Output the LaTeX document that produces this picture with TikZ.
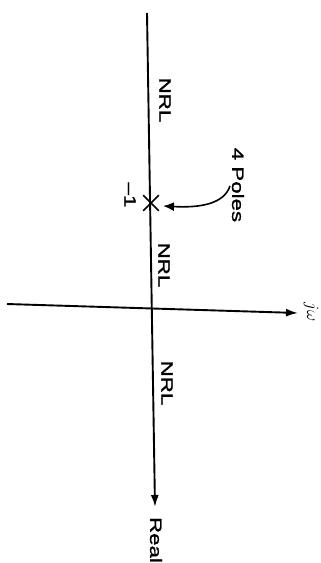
\documentclass[tikz,border=0pt]{standalone}
\usepackage{fontspec}
\setmainfont{Liberation Sans}
\newfontfamily\lblfont[FakeBold=1.2]{Liberation Sans}
\usetikzlibrary{arrows.meta,shapes.misc}
\begin{document}
\begin{tikzpicture}[x=1pt,y=-1pt,
  lbl/.style={rotate=-90, font=\lblfont\fontsize{16.5}{18}\selectfont, inner sep=0pt},
  axisline/.style={line width=1.9pt, -{Latex[length=12pt,width=8pt]}},
  pointer/.style={line width=1.6pt, -{Latex[length=11pt,width=9pt]}}]
\useasboundingbox (0,0) rectangle (321,563);
\fill[white] (0,0) rectangle (321,563);
\coordinate (rtop) at (147,13);
\coordinate (rend) at (155,507);
\coordinate (jl) at (7,304);
\coordinate (jr) at (298,313);
\draw[axisline] (rtop) -- (rend);
\draw[axisline] (jl) -- (jr);
\node[cross out, draw, minimum size=14pt, inner sep=0pt, line width=1.6pt] (pole) at (151,203) {};
\node[lbl] (nrlA) at (165,100) {\scalebox{1.35}[1]{NRL}};
\node[lbl] (nrlB) at (164,265) {\scalebox{1.35}[1]{NRL}};
\node[lbl] (nrlC) at (167,383) {\scalebox{1.35}[1]{NRL}};
\node[lbl] (minus) at (130,195) {\scalebox{1.35}[1]{\textendash1}};
\node[lbl] (poles) at (238,185) {\scalebox{1.35}[1]{4 Poles}};
\node[lbl] (real) at (156,540) {\scalebox{1.35}[1]{Real}};
\node[lbl, font=\fontsize{18}{20}\selectfont] (jw) at (311,312) {$j\omega$};
\coordinate (pstart) at (230,186);
\coordinate (ptip) at (163,206);
\draw[pointer] (pstart) .. controls (224,204) and (200,208) .. (ptip);
\end{tikzpicture}
\end{document}
